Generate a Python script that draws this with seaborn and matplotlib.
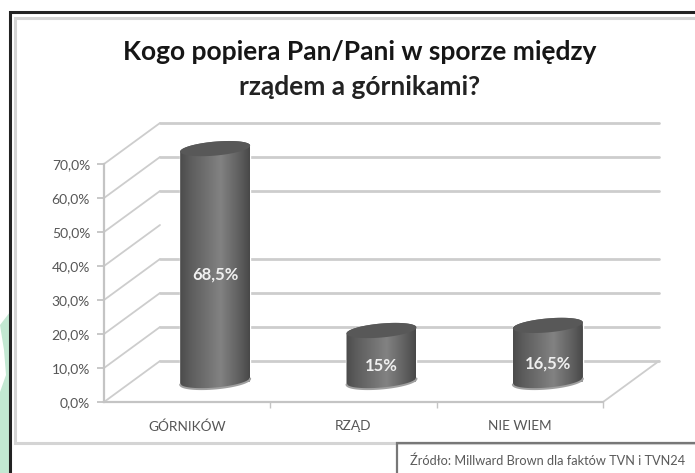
import numpy as np
import pandas as pd
import matplotlib
matplotlib.use("Agg")
import matplotlib.pyplot as plt
from matplotlib.colors import LinearSegmentedColormap
from matplotlib.patches import Polygon
from matplotlib.ticker import FuncFormatter
import seaborn as sns

categories = ["GÓRNIKÓW", "RZĄD", "NIE WIEM"]
support = [68.5, 15, 16.5]
y_ticks = [0, 10, 20, 30, 40, 50, 60, 70]
back_wall_lines = [0, 10, 20, 30, 50, 60, 70]
title_lines = ["Kogo popiera Pan/Pani w sporze między", "rządem a górnikami?"]
source_note = "Źródło: Millward Brown dla faktów TVN i TVN24"

W, H = 695, 473
sns.set_theme(style="white")
plt.rcParams["font.family"] = ["Lato", "DejaVu Sans"]

fig = plt.figure(figsize=(W / 100, H / 100), dpi=100, facecolor="white")

# Frame layer, measured in pixels from the top-left corner
frame = fig.add_axes([0, 0, 1, 1], zorder=0)
frame.set_xlim(0, W)
frame.set_ylim(H, 0)
frame.axis("off")
frame.add_patch(Polygon([(0, 325), (10, 312), (10, 473), (0, 473), (0, 392), (6, 375), (4, 350)],
                        closed=True, fc="#c2e8d2", ec="none"))
frame.plot([W, 10, 10], [12, 12, H], color="#222222", lw=2.2, solid_joinstyle="miter")
frame.plot([W, 15, 15, W], [18, 18, 443, 443], color="#d4d4d4", lw=2.2, solid_joinstyle="miter")
frame.plot([397, 397, W], [H, 443, 443], color="#777777", lw=1.6, solid_joinstyle="miter")
frame.text(359.5, 52, title_lines[0], ha="center", va="center", fontsize=19,
           fontweight="bold", color="#161616")
frame.text(359.5, 87, title_lines[1], ha="center", va="center", fontsize=19,
           fontweight="bold", color="#222222")
frame.text(410, 461, source_note, ha="left", va="center", fontsize=9.2, color="#5a5a5a")

# Front plane of the plot box; the axes run above 70 so the tallest cylinder keeps its top
left, right, bottom, top = 104, 603, 402, 164
y_max = 85
px_y = 70 / (bottom - top)
axes_height = y_max / px_y
ax = fig.add_axes([left / W, 1 - bottom / H, (right - left) / W, axes_height / H], zorder=1)
ax.patch.set_alpha(0)

data = pd.DataFrame({"kategoria": categories, "poparcie": support})
bar_width = 70 / ((right - left) / 3)
sns.barplot(data=data, x="kategoria", y="poparcie", color="#666666", width=bar_width,
            saturation=1, ax=ax, zorder=3)
ax.set_xlabel("")
ax.set_ylabel("")

px_x = 3 / (right - left)
depth_x, depth_y = 56 * px_x, 41 * px_y

# Floor and wall lines running back from the front plane
line_kw = dict(color="#cdcdcd", clip_on=False, zorder=1)
for v in y_ticks:
    ax.plot([-0.5, -0.5 + depth_x], [v, v + depth_y], lw=1.3, **line_kw)
for v in back_wall_lines:
    ax.plot([-0.5 + depth_x, 2.5 + depth_x], [v + depth_y] * 2, lw=2.0, **line_kw)
ax.plot([2.5, 2.5 + depth_x], [0, depth_y], lw=1.3, **line_kw)

cylinder_cmap = LinearSegmentedColormap.from_list(
    "cylinder", [(0, "#4c4c4c"), (0.14, "#5c5c5c"), (0.58, "#828282"), (0.86, "#5e5e5e"), (1, "#484848")])
shade = np.linspace(0, 1, 128).reshape(1, -1)


def rim(cx, y0, start, stop):
    """Points along a tilted elliptical rim, in data coordinates."""
    t = np.linspace(start, stop, 60)
    return (cx + bar_width / 2 * np.cos(t),
            y0 + 7.0 * px_y * np.sin(t) + 3.0 * px_y * np.cos(t))


# Seaborn's bars sit at mid depth, each rounded into a cylinder
for bar, value in zip(ax.patches, support):
    bar.set_x(bar.get_x() + depth_x / 2)
    bar.set_y(depth_y / 2)
    cx = bar.get_x() + bar_width / 2
    y0, y1 = depth_y / 2, depth_y / 2 + value
    lx, ly = rim(cx, y0, np.pi, 2 * np.pi)
    tx, ty = rim(cx, y1, 0, np.pi)
    outline = Polygon(np.column_stack([np.r_[lx, tx], np.r_[ly, ty]]), closed=True,
                      transform=ax.transData, fc="none", ec="none")
    ax.add_patch(outline)
    img = ax.imshow(shade, cmap=cylinder_cmap, aspect="auto", zorder=4,
                    extent=[cx - bar_width / 2, cx + bar_width / 2, y0 - 4, y1 + 4])
    img.set_clip_path(outline)
    ax.plot(lx, ly, color="#a0a0a0", lw=1.4, clip_on=False, zorder=4)
    ex, ey = rim(cx, y1, 0, 2 * np.pi)
    ax.add_patch(Polygon(np.column_stack([ex, ey]), closed=True, fc="#585858", ec="none",
                         clip_on=False, zorder=5))
    label = f"{value:g}".replace(".", ",") + "%"
    ax.annotate(label, (cx, depth_y / 2 + value / 2), xytext=(0, -7), textcoords="offset points",
                ha="center", va="center", color="#f0f0f0", fontsize=12, fontweight="bold",
                annotation_clip=False, zorder=6)

ax.set_xlim(-0.5, 2.5)
ax.set_ylim(0, y_max)

for side in ("top", "right"):
    ax.spines[side].set_visible(False)
for side in ("left", "bottom"):
    ax.spines[side].set_color("#c4c4c4")
    ax.spines[side].set_linewidth(1.6)
ax.spines["left"].set_bounds(0, 70)

ax.set_yticks(y_ticks)
ax.yaxis.set_major_formatter(FuncFormatter(lambda v, _: f"{v:.1f}".replace(".", ",") + "%"))
ax.tick_params(axis="y", left=True, length=5, width=1.3, color="#c4c4c4", labelsize=10,
               labelcolor="#565656", pad=5)
ax.set_xticks([0.5, 1.5, 2.5], minor=True)
ax.tick_params(axis="x", which="major", bottom=False, labelsize=9.8, labelcolor="#565656", pad=7)
ax.tick_params(axis="x", which="minor", bottom=True, length=4, width=1, color="#c4c4c4")

fig.savefig("out.png", dpi=100)
